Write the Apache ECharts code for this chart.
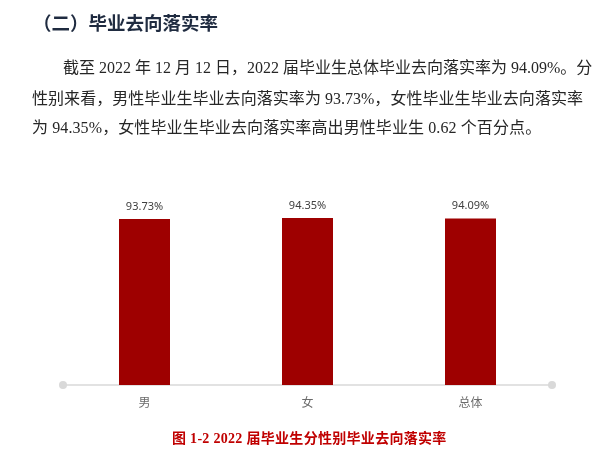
<!DOCTYPE html>
<html>
<head>
<meta charset="utf-8">
<script src="https://cdn.jsdelivr.net/npm/echarts@6/dist/echarts.min.js"></script>
<style>
  html, body { margin: 0; padding: 0; background: #fff; }
  #wrap { position: relative; width: 605px; height: 458px; overflow: hidden; }
  #chart { position: absolute; left: 0; top: 0; width: 605px; height: 458px; }
  .t { position: absolute; white-space: nowrap; font-family: "Liberation Serif", "Noto Sans CJK SC", serif; color: #262626; font-size: 16px; line-height: 30px; }
  .j { text-align: justify; text-align-last: justify; }
  #h { font-family: "Noto Sans CJK SC", sans-serif; font-weight: bold; font-size: 18.5px; color: #1f2b40; left: 33px; top: 7px; }
  #cap { font-family: "Liberation Serif", "Noto Sans CJK SC", serif; font-weight: bold; font-size: 14px; letter-spacing: 0.3px; color: #c00000; left: 172px; top: 424px; }
</style>
</head>
<body>
<div id="wrap">
  <div id="chart"></div>
  <div class="t" id="h">（二）毕业去向落实率</div>
  <div class="t j" style="left:63px; top:53px; width:520px;">截至 2022 年 12 月 12 日，2022 届毕业生总体毕业去向落实率为 94.09%。分</div>
  <div class="t j" style="left:32px; top:84px; width:551px;">性别来看，男性毕业生毕业去向落实率为 93.73%，女性毕业生毕业去向落实率</div>
  <div class="t" style="left:32px; top:113px; letter-spacing:0.1px;">为 94.35%，女性毕业生毕业去向落实率高出男性毕业生 0.62 个百分点。</div>
  <div class="t" id="cap">图 1-2 2022 届毕业生分性别毕业去向落实率</div>
</div>
<script>
const categories = ['男', '女', '总体'];
const rates = [93.73, 94.35, 94.09];

const chart = echarts.init(document.getElementById('chart'), null, { renderer: 'canvas' });
chart.setOption({
  animation: false,
  grid: { left: 63, right: 53, top: 208, bottom: 73 },
  xAxis: {
    type: 'category',
    data: categories,
    axisLine: {
      show: true,
      symbol: ['circle', 'circle'],
      symbolSize: [8, 8],
      lineStyle: { color: '#d9d9d9', width: 1.5 }
    },
    axisTick: { show: false },
    axisLabel: {
      color: '#6b6b6b',
      fontSize: 12,
      margin: 11,
      fontFamily: '"Noto Sans CJK SC", sans-serif'
    }
  },
  yAxis: {
    type: 'value',
    min: 0,
    max: 100,
    show: false,
    splitLine: { show: false }
  },
  series: [{
    type: 'bar',
    data: rates,
    barWidth: 51,
    itemStyle: { color: '#9e0000' },
    label: {
      show: true,
      position: 'top',
      distance: 7,
      color: '#404040',
      fontSize: 11,
      fontFamily: '"Noto Sans", sans-serif',
      formatter: p => p.value.toFixed(2) + '%'
    }
  }]
});
</script>
</body>
</html>
